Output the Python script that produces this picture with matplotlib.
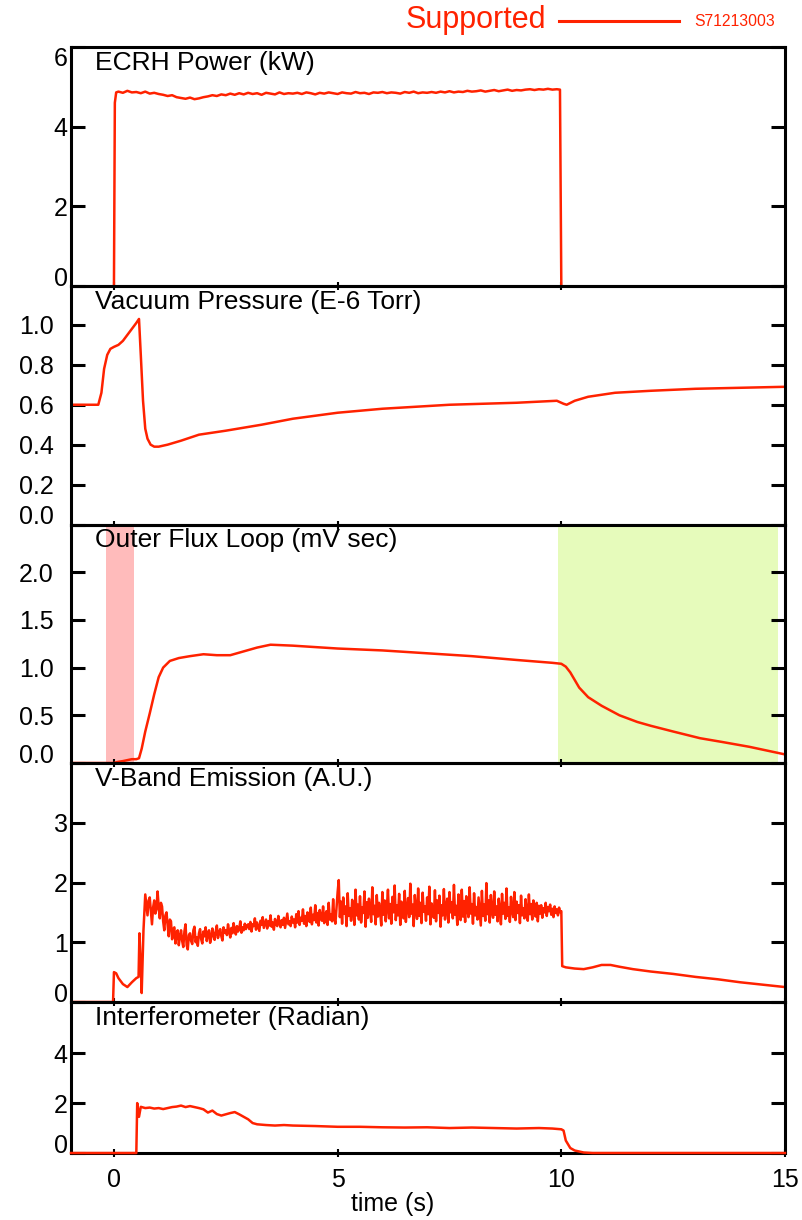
import numpy as np
import matplotlib
matplotlib.use("Agg")
import matplotlib.pyplot as plt

plt.rcParams['font.family'] = ['Liberation Sans', 'DejaVu Sans']

RED = "#FF2200"

# ---------------- data ----------------
# ECRH power (kW), sampled every 0.1 s during the pulse
ecrh_dt = 0.1
ecrh_plateau = [
    4.88, 4.85, 4.90, 4.86, 4.87, 4.84, 4.88, 4.83, 4.85, 4.82,
    4.80, 4.77, 4.79, 4.74, 4.72, 4.70, 4.73, 4.69, 4.71, 4.74,
    4.76, 4.79, 4.77, 4.81, 4.79, 4.83, 4.80, 4.84, 4.81, 4.85,
    4.82, 4.84, 4.80, 4.85, 4.83, 4.81, 4.86, 4.82, 4.84, 4.83,
    4.85, 4.82, 4.86, 4.84, 4.81, 4.85, 4.83, 4.86, 4.84, 4.82,
    4.86, 4.84, 4.83, 4.87, 4.84, 4.85, 4.82, 4.86, 4.85, 4.87,
    4.84, 4.86, 4.85, 4.83, 4.87, 4.85, 4.88, 4.84, 4.86, 4.85,
    4.87, 4.85, 4.88, 4.86, 4.89, 4.86, 4.88, 4.87, 4.90, 4.88,
    4.89, 4.91, 4.88, 4.90, 4.92, 4.89, 4.91, 4.93, 4.90, 4.92,
    4.91, 4.93, 4.94, 4.92, 4.94, 4.93, 4.95, 4.93, 4.94]
ecrh_edges_t = [0.0, 0.02, 0.05, 9.97, 10.0]
ecrh_edges_v = [0.0, 4.60, 4.86, 4.93, 0.0]

# Vacuum pressure (1e-6 Torr)
vac_t = [-0.96, -0.6, -0.35, -0.28, -0.22, -0.15, -0.08, 0.0, 0.1, 0.2, 0.3,
         0.4, 0.5, 0.56, 0.6, 0.65, 0.7, 0.75, 0.82, 0.9, 1.0, 1.2, 1.5, 1.9,
         2.5, 3.3, 4.0, 5.0, 6.0, 7.5, 9.0, 9.9, 10.05, 10.12, 10.3, 10.6,
         11.2, 12.0, 13.0, 14.0, 15.0]
vac_v = [0.60, 0.60, 0.60, 0.66, 0.78, 0.85, 0.88, 0.89, 0.90, 0.92, 0.95,
         0.98, 1.01, 1.03, 0.85, 0.62, 0.48, 0.43, 0.40, 0.39, 0.39, 0.40, 0.42,
         0.45, 0.47, 0.50, 0.53, 0.56, 0.58, 0.60, 0.61, 0.62, 0.605, 0.60,
         0.62, 0.64, 0.66, 0.67, 0.68, 0.685, 0.69]

# Outer flux loop (mV s)
flux_t = [-0.96, 0.0, 0.07, 0.2, 0.4, 0.5, 0.56, 0.62, 0.7, 0.8, 0.9, 1.0, 1.1,
          1.25, 1.45, 1.7, 2.0, 2.3, 2.6, 2.9, 3.2, 3.5, 4.0, 5.0, 6.0, 7.0, 8.0,
          9.0, 9.8, 10.0, 10.1, 10.2, 10.3, 10.4, 10.6, 10.9, 11.3, 11.7, 12.0,
          12.5, 13.1, 13.6, 14.2, 14.6, 15.0]
flux_v = [0.0, 0.0, 0.01, 0.02, 0.04, 0.04, 0.05, 0.15, 0.33, 0.52, 0.72, 0.90,
          1.00, 1.07, 1.10, 1.12, 1.14, 1.13, 1.13, 1.17, 1.21, 1.24, 1.23, 1.20,
          1.18, 1.15, 1.12, 1.08, 1.05, 1.04, 1.01, 0.95, 0.87, 0.79, 0.69, 0.60,
          0.50, 0.43, 0.39, 0.33, 0.26, 0.22, 0.17, 0.13, 0.09]

# V-band emission (a.u.)
vband_head_t = [-0.96, -0.02, 0.0, 0.05, 0.1, 0.2, 0.3, 0.4, 0.5, 0.55, 0.57,
                0.6, 0.62, 0.66]
vband_head_v = [0.0, 0.0, 0.50, 0.48, 0.40, 0.30, 0.25, 0.33, 0.40, 0.42, 1.15,
                0.60, 0.15, 1.20]
vband_dt = 0.025
vband_start = 0.70
vband_noisy = [
    # 0.700 - 1.500
    1.80, 1.62, 1.45, 1.70, 1.75, 1.52, 1.30, 1.58, 1.70, 1.48, 1.55, 1.85,
    1.60, 1.40, 1.66, 1.60, 1.35, 1.20, 1.45, 1.50, 1.28, 1.10, 1.38, 1.35,
    1.05, 1.22, 1.25, 0.98, 1.15, 1.20, 0.95, 1.10, 1.20,
    # 1.525 - 3.000
    1.02, 0.92, 1.18, 1.30, 0.95, 0.88, 1.12, 1.15, 1.02, 0.97, 1.20, 1.26,
    1.00, 1.08, 0.94, 1.15, 1.22, 1.05, 0.98, 1.18,
    1.10, 1.25, 1.02, 1.14, 1.20, 0.99, 1.08, 1.23, 1.12, 1.04, 1.18, 1.28,
    1.07, 1.15, 1.22, 1.10, 1.03, 1.25, 1.16, 1.20,
    1.12, 1.30, 1.18, 1.08, 1.24, 1.15, 1.32, 1.20, 1.13, 1.27, 1.18, 1.23,
    1.35, 1.16, 1.25, 1.20, 1.31, 1.22, 1.28, 1.30,
    # 3.025 - 4.000
    1.22, 1.34, 1.18, 1.30, 1.27, 1.40, 1.21, 1.33, 1.26, 1.19, 1.36, 1.29,
    1.42, 1.24, 1.31, 1.38, 1.23, 1.35, 1.28, 1.45,
    1.26, 1.33, 1.21, 1.39, 1.30, 1.27, 1.44, 1.32, 1.25, 1.37, 1.29, 1.41,
    1.24, 1.36, 1.48, 1.30, 1.35, 1.27, 1.43, 1.33,
    # 4.025 - 5.000
    1.38, 1.25, 1.47, 1.33, 1.52, 1.29, 1.41, 1.36, 1.55, 1.31, 1.44, 1.27,
    1.50, 1.39, 1.34, 1.58, 1.30, 1.46, 1.37, 1.62,
    1.33, 1.49, 1.28, 1.54, 1.41, 1.36, 1.60, 1.32, 1.45, 1.52, 1.29, 1.66,
    1.38, 1.47, 1.35, 1.72, 1.40, 1.31, 1.57, 1.84,
    # 5.025 - 9.500
    2.04, 1.42, 1.68, 1.31, 1.75, 1.48, 1.60, 1.27, 1.82, 1.44, 1.57, 1.36,
    1.71, 1.52, 1.29, 1.88, 1.45, 1.63, 1.38, 1.77,
    1.33, 1.58, 1.49, 1.85, 1.26, 1.67, 1.41, 1.73, 1.55, 1.34, 1.92, 1.47,
    1.61, 1.30, 1.79, 1.43, 1.66, 1.52, 1.28, 1.84,
    1.46, 1.70, 1.35, 1.59, 1.88, 1.40, 1.64, 1.31, 1.76, 1.50, 1.95, 1.37,
    1.62, 1.45, 1.81, 1.29, 1.68, 1.53, 1.40, 1.86,
    1.34, 1.57, 1.74, 1.42, 1.98, 1.48, 1.63, 1.27, 1.79, 1.55, 1.39, 1.90,
    1.44, 1.66, 1.32, 1.83, 1.51, 1.60, 1.36, 1.75,
    1.47, 1.93, 1.30, 1.65, 1.54, 1.41, 1.87, 1.35, 1.70, 1.49, 1.78, 1.26,
    1.62, 1.45, 1.89, 1.38, 1.58, 1.73, 1.33, 1.84,
    1.50, 1.67, 1.40, 1.96, 1.46, 1.61, 1.29, 1.80, 1.53, 1.37, 1.88, 1.43,
    1.69, 1.34, 1.77, 1.56, 1.42, 1.92, 1.48, 1.64,
    1.31, 1.82, 1.45, 1.59, 1.38, 1.75, 1.52, 1.28, 1.86, 1.44, 1.63, 1.36,
    1.99, 1.47, 1.70, 1.33, 1.79, 1.51, 1.41, 1.85,
    1.46, 1.60, 1.35, 1.73, 1.54, 1.30, 1.81, 1.48, 1.66, 1.39, 1.90, 1.44,
    1.58, 1.34, 1.76, 1.53, 1.42, 1.84, 1.37, 1.68,
    1.49, 1.62, 1.32, 1.78, 1.45, 1.57, 1.40, 1.72, 1.51, 1.36, 1.80, 1.47,
    1.64, 1.38, 1.70, 1.55, 1.43, 1.66, 1.35, 1.61,
    # 9.525 - 10.000
    1.48, 1.62, 1.41, 1.57, 1.50, 1.66, 1.44, 1.59, 1.52, 1.63, 1.46, 1.56,
    1.42, 1.60, 1.49, 1.55, 1.45, 1.58, 1.50, 1.52]
vband_tail_t = [10.02, 10.1, 10.3, 10.5, 10.7, 10.9, 11.1, 11.3, 11.6, 12.0,
                12.5, 13.0, 13.5, 14.0, 14.5, 15.0]
vband_tail_v = [0.60, 0.58, 0.56, 0.55, 0.58, 0.62, 0.62, 0.59, 0.55, 0.51,
                0.47, 0.42, 0.38, 0.33, 0.29, 0.25]

# Interferometer (radian)
intf_t = [-0.96, 0.50, 0.52, 0.56, 0.60, 0.7, 0.8, 0.9, 1.0, 1.1, 1.2, 1.3,
          1.4, 1.5, 1.6, 1.7, 1.8, 1.9, 2.0, 2.1, 2.2, 2.3, 2.4, 2.5, 2.6, 2.7,
          2.8, 2.9, 3.0, 3.1, 3.2, 3.4, 3.6, 3.8, 4.0, 4.5, 5.0, 5.5, 6.0, 6.5,
          7.0, 7.5, 8.0, 8.5, 9.0, 9.5, 9.8, 10.0, 10.05, 10.1, 10.2, 10.3,
          10.5, 10.7, 15.0]
intf_v = [0.0, 0.0, 2.00, 1.45, 1.85, 1.80, 1.82, 1.78, 1.80, 1.76, 1.80, 1.84,
          1.86, 1.90, 1.84, 1.88, 1.84, 1.80, 1.75, 1.62, 1.70, 1.56, 1.50,
          1.55, 1.60, 1.64, 1.55, 1.45, 1.35, 1.20, 1.15, 1.12, 1.10, 1.12,
          1.10, 1.08, 1.05, 1.05, 1.03, 1.02, 1.03, 1.00, 1.02, 1.00, 0.98,
          1.00, 0.98, 0.95, 0.90, 0.50, 0.20, 0.10, 0.02, 0.0, 0.0]

titles = ["ECRH Power (kW)", "Vacuum Pressure (E-6 Torr)",
          "Outer Flux Loop (mV sec)", "V-Band Emission (A.U.)",
          "Interferometer (Radian)"]
ylims = [(0, 6), (0, 1.195), (0, 2.5), (0, 4.0), (0, 6.05)]
yticks = [[0, 2, 4, 6], [0.0, 0.2, 0.4, 0.6, 0.8, 1.0],
          [0.0, 0.5, 1.0, 1.5, 2.0], [0, 1, 2, 3], [0, 2, 4]]
ytick_labels = [["0", "2", "4", "6"],
                ["0.0", "0.2", "0.4", "0.6", "0.8", "1.0"],
                ["0.0", "0.5", "1.0", "1.5", "2.0"],
                ["0", "1", "2", "3"], ["0", "2", "4"]]
xticks = [0, 5, 10, 15]
xtick_labels = ["0", "5", "10", "15"]

# ---------------- layout ----------------
W, H = 803, 1220
fig = plt.figure(figsize=(W / 100, H / 100), dpi=100)
left_px, right_px = 71, 785
edges_px = [47, 286, 524.5, 763, 1002, 1153]
label_pads = [2.3, 12.3, 12.3, 2.3, 2.3]

axes = []
for i in range(5):
    top, bot = edges_px[i], edges_px[i + 1]
    ax = fig.add_axes([left_px / W, 1 - bot / H, (right_px - left_px) / W,
                       (bot - top) / H])
    axes.append(ax)

ecrh_t = ecrh_edges_t[:3] + [ecrh_dt * (k + 1) for k in range(len(ecrh_plateau))] \
    + ecrh_edges_t[3:]
ecrh_v = ecrh_edges_v[:3] + ecrh_plateau + ecrh_edges_v[3:]

vband_t = list(vband_head_t) + [vband_start + vband_dt * k
                                for k in range(len(vband_noisy))] + vband_tail_t
vband_v = list(vband_head_v) + vband_noisy + vband_tail_v

series = [(ecrh_t, ecrh_v), (vac_t, vac_v), (flux_t, flux_v),
          (vband_t, vband_v), (intf_t, intf_v)]

for i, ax in enumerate(axes):
    t, v = series[i]
    if i == 2:
        ax.axvspan(-0.18, 0.45, ymin=0, ymax=0.99, color="#FFBBBB", lw=0, zorder=0)
        ax.axvspan(9.93, 14.85, ymin=0, ymax=0.99, color="#E6FBBB", lw=0, zorder=0)
    ax.plot(t, v, color=RED, lw=1.8, zorder=3 if i == 4 else 2,
            clip_on=(i != 4))
    ax.set_xlim(-0.96, 15)
    ax.set_ylim(*ylims[i])
    ax.set_yticks(yticks[i])
    ax.set_yticklabels(ytick_labels[i])
    ax.set_xticks(xticks)
    ax.tick_params(axis="y", direction="in", length=10, width=2.2,
                   labelsize=18, left=True, right=True, pad=label_pads[i])
    ax.tick_params(axis="x", direction="inout", length=6, width=1.5,
                   labelsize=18, pad=8)
    if i < 4:
        ax.tick_params(axis="x", labelbottom=False)
    for s in ax.spines.values():
        s.set_linewidth(2.2)
    ax.set_facecolor("none")
    # keep the end labels inside the panel height
    labels = ax.get_yticklabels()
    labels[0].set_va("baseline")
    if yticks[i][-1] == ylims[i][1]:
        labels[-1].set_va("top")
    fig.text(95 / W, 1 - (edges_px[i] + 16) / H, titles[i], fontsize=19,
             va="center", ha="left")

axes[4].set_xticklabels(xtick_labels)
fig.text(393 / W, 1 - 1204 / H, "time (s)", fontsize=18, ha="center",
         va="center")

# header legend
fig.text(476 / W, 1 - 20 / H, "Supported", color=RED, fontsize=22,
         ha="center", va="center")
fig.add_artist(plt.Line2D([559 / W, 679 / W], [1 - 21 / H, 1 - 21 / H],
                          color=RED, lw=2.2, transform=fig.transFigure))
fig.text(735 / W, 1 - 22 / H, "S71213003", color=RED, fontsize=11.3,
         ha="center", va="center")

fig.savefig("out.png", dpi=100)
